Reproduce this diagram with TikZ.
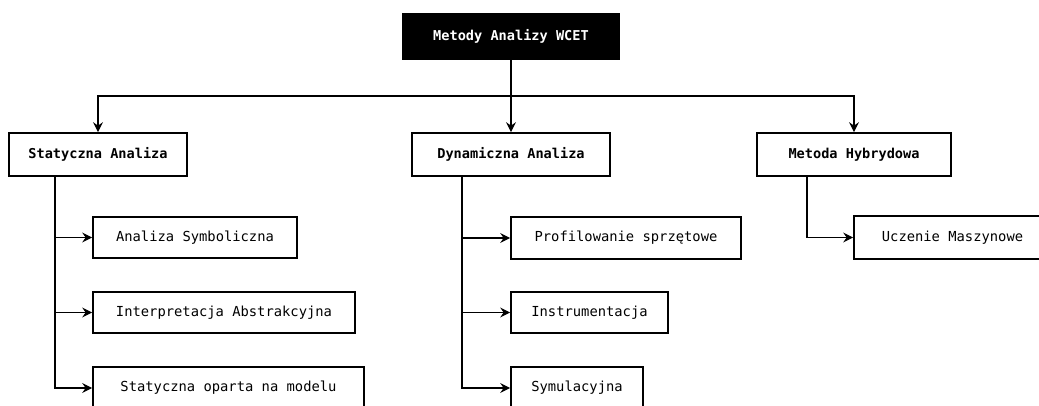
\documentclass[tikz,border=0pt]{standalone}
\usepackage{fontspec}
\setmonofont{DejaVu Sans Mono}
\usetikzlibrary{arrows.meta}
\begin{document}
\begin{tikzpicture}[x=1pt,y=-1pt,
  box/.style={draw=black, line width=1.7pt, fill=white, inner sep=0pt,
    font=\ttfamily\fontsize{13.8}{16}\selectfont, text=black},
  topbox/.style={box, fill=black, text=white, font=\ttfamily\bfseries\fontsize{13.6}{16}\selectfont},
  mainbox/.style={box, font=\ttfamily\bfseries\fontsize{13.6}{16}\selectfont},
  conn/.style={line width=1.1pt, draw=black},
  arr/.style={conn, -{Stealth[length=10pt,width=10pt,inset=3.5pt]}}
]
\useasboundingbox (0,0) rectangle (1039,406);
\clip (0,0) rectangle (1039,406);

\node[topbox, minimum width=216pt, minimum height=45pt] (top) at (511,36.5) {Metody Analizy WCET};

\node[mainbox, minimum width=178pt, minimum height=43pt] (stat) at (98,154.5) {Statyczna Analiza};
\node[mainbox, minimum width=198pt, minimum height=43pt] (dyn) at (511,154.5) {Dynamiczna Analiza};
\node[mainbox, minimum width=194pt, minimum height=43pt] (hyb) at (854,154.5) {Metoda Hybrydowa};

\node[box, minimum width=204pt, minimum height=41pt] (sym) at (195,237.5) {Analiza Symboliczna};
\node[box, minimum width=262pt, minimum height=41pt] (interp) at (224,312.5) {Interpretacja Abstrakcyjna};
\node[box, minimum width=271pt, minimum height=42pt] (model) at (228.5,388) {Statyczna oparta na modelu};

\node[box, minimum width=230pt, minimum height=42pt] (prof) at (626,238) {Profilowanie sprzętowe};
\node[box, minimum width=157pt, minimum height=41pt] (instr) at (589.5,312.5) {Instrumentacja};
\node[box, minimum width=132pt, minimum height=42pt] (symul) at (577,388) {Symulacyjna};

\node[box, minimum width=197pt, minimum height=43pt] (ucz) at (952.5,237.5) {Uczenie Maszynowe};

% top-level connectors
\coordinate (j) at (511,96);
\draw[conn] (top.south) -- (j);
\draw[arr] (j) -| (stat.north);
\draw[arr] (j) -- (dyn.north);
\draw[arr] (j) -| (hyb.north);

% static children
\coordinate (s0) at (55,176);
\draw[arr] (s0) |- (sym.west);
\draw[arr] (s0) |- (interp.west);
\draw[arr] (s0) |- (model.west);

% dynamic children
\coordinate (d0) at (462,176);
\draw[arr] (d0) |- (prof.west);
\draw[arr] (d0) |- (instr.west);
\draw[arr] (d0) |- (symul.west);

% hybrid child
\coordinate (h0) at (807,176);
\draw[arr] (h0) |- (ucz.west);
\end{tikzpicture}
\end{document}
